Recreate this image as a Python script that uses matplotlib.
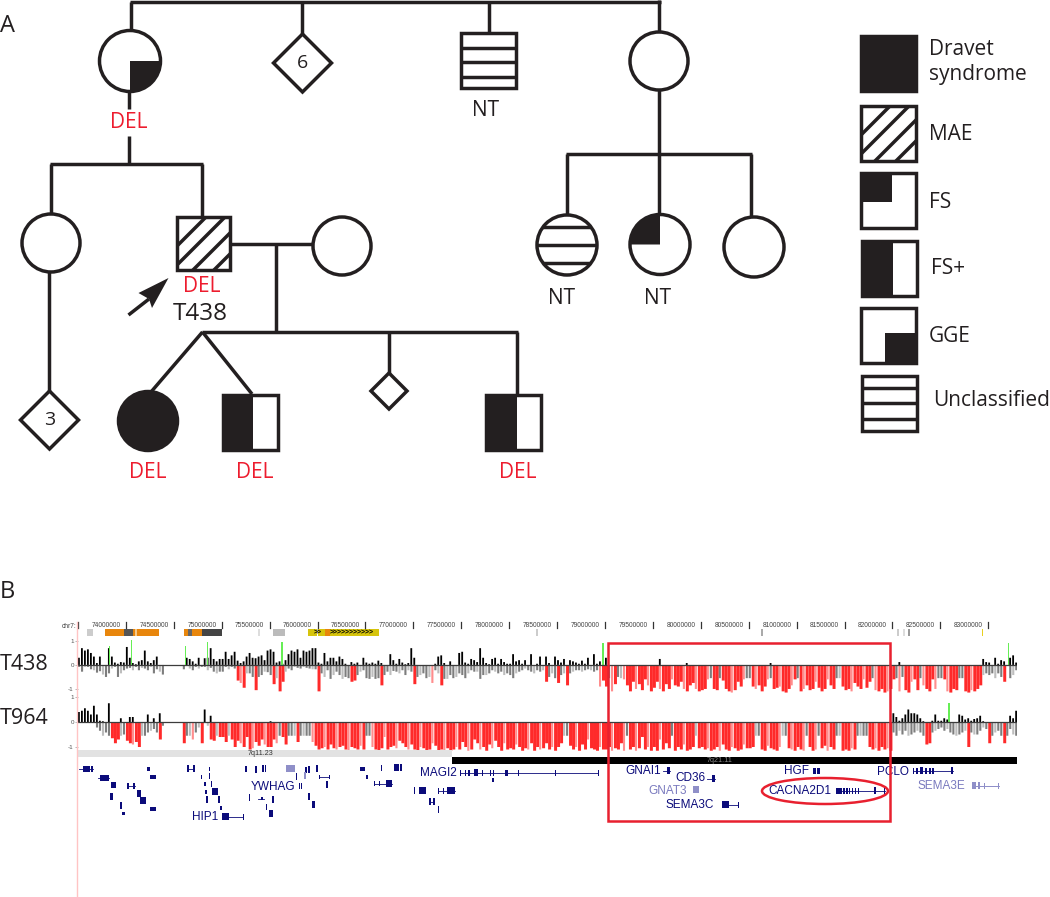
#!/usr/bin/env python3
"""Pedigree (A) and chr7 copy number browser view (B)."""

import matplotlib
matplotlib.use("Agg")
import matplotlib.pyplot as plt
from matplotlib.patches import Circle, Ellipse, Polygon, Rectangle, Wedge

W, H = 1050, 897
INK = "#231f20"
RED = "#ed1c2e"
NAVY = "#0b0b7a"
PEDFONT = "Open Sans"
GENEFONT = "Liberation Sans"

# ---- pedigree, pixel positions ----
open_circles = [(51, 243, 29), (342, 246, 29), (659, 61, 29), (754, 247, 30)]
diamonds = [(302.5, 63, 29, "6"), (49.5, 420, 29, "3"), (389, 391, 18, "")]
ped_lines = [
    (129.5, 2, 660.5, 2), (131, 2, 131, 30), (302, 2, 302, 34), (489, 2, 489, 33), (659, 0, 659, 32),
    (128.5, 92, 128.5, 109), (128.5, 136, 128.5, 164), (50, 164, 203, 164),
    (51, 164, 51, 214), (202, 164, 202, 217), (49, 272, 49, 391),
    (230, 244, 313, 244), (276, 244, 276, 332), (202, 332, 518, 332),
    (202.5, 332, 151, 392), (202.5, 332, 252, 394), (388.5, 332, 388.5, 374), (517, 332, 517, 395),
    (659, 90, 659, 214), (566, 154, 752, 154), (567, 154, 567, 214), (751, 154, 751, 217),
]
ped_texts = [
    (128.5, 122, "DEL", RED), (202, 286, "DEL", RED), (148, 473, "DEL", RED),
    (255, 473, "DEL", RED), (518, 473, "DEL", RED),
    (486, 110, "NT", INK), (562, 298, "NT", INK), (658, 298, "NT", INK),
]
hatch_offsets = [29, 48, 69, 90]

legend_names = ["Dravet\nsyndrome", "MAE", "FS", "FS+", "GGE", "Unclassified"]
legend_text_x = [929, 929, 929, 931, 929, 933]
legend_text_y = [62, 135, 202, 269, 337, 400]
legend_box_x = [861, 861, 861, 862, 861, 862]
legend_box_y = [36, 106, 173, 241, 308, 376]

# ---- browser tracks, one row per 500 kb from 73.5 Mb, values x100 ----
t438_gain = [
    [30, 70, 60, 65, 50, 35, 8, 35, 0, 0, 70, 35, 10, 5, 12, 10],
    [75, 30, 8, 3, 15, 20, 60, 15, 8, 20, 35, 0, 0, 0, 0, 0],
    [0, 0, 0, 0, 30, 25, 15, 5, 30, 0, 28, 30, 70, 25, 15, 25],
    [25, 55, 25, 40, 55, 18, 8, 15, 35, 50, 30, 28, 35, 40, 20, 60],
    [65, 55, 10, 15, 5, 20, 45, 60, 55, 65, 30, 60, 55, 60, 70, 70],
    [10, 5, 50, 15, 30, 30, 15, 35, 25, 5, 0, 12, 5, 10, 0, 30],
    [10, 5, 10, 5, 18, 8, 0, 0, 45, 20, 5, 25, 10, 3, 8, 70],
    [30, 0, 0, 0, 0, 0, 0, 5, 35, 40, 8, 0, 15, 0, 0, 50],
    [55, 10, 5, 25, 20, 12, 70, 30, 8, 3, 25, 30, 5, 25, 12, 5],
    [5, 45, 15, 20, 5, 20, 0, 45, 0, 5, 35, 0, 35, 8, 0, 35],
    [20, 10, 25, 0, 20, 15, 10, 5, 18, 5, 30, 0, 45, 5, 15, 0],
    [30, 0, 0, 0, 0, 0, 0, 0, 0, 0, 0, 0, 0, 0, 0, 0],
    [0, 0, 25, 0, 0, 0, 0, 0, 0, 0, 0, 8, 0, 0, 0, 0],
    [0, 0, 0, 0, 0, 0, 0, 0, 0, 0, 0, 0, 0, 0, 0, 0],
    [0, 0, 0, 0, 0, 0, 0, 8, 0, 0, 0, 0, 0, 0, 0, 0],
    [0, 0, 0, 0, 0, 0, 0, 0, 0, 0, 0, 0, 0, 0, 0, 0],
    [0, 0, 0, 0, 0, 0, 0, 0, 0, 0, 0, 0, 0, 0, 0, 0],
    [0, 0, 12, 0, 0, 0, 0, 0, 0, 0, 0, 0, 0, 0, 0, 0],
    [0, 0, 0, 0, 0, 0, 0, 0, 0, 0, 0, 0, 0, 0, 25, 12],
    [10, 0, 30, 5, 20, 15, 0, 30, 40, 10],
]
t438_loss = [
    [8, 28, 8, 8, 18, 22, 32, 26, 40, 50, 35, 15, 8, 50, 35, 22],
    [15, 12, 22, 8, 22, 12, 15, 22, 8, 35, 18, 28, 40, 0, 0, 0],
    [0, 0, 0, 18, 0, 15, 22, 8, 15, 8, 8, 22, 12, 28, 35, 28],
    [28, 8, 18, 8, 15, 65, 75, 95, 35, 35, 50, 105, 50, 42, 28, 30],
    [42, 80, 55, 110, 70, 28, 15, 22, 8, 12, 15, 8, 12, 15, 18, 18],
    [110, 35, 50, 22, 58, 42, 28, 42, 58, 50, 55, 70, 65, 42, 28, 22],
    [55, 58, 50, 58, 55, 85, 42, 28, 42, 25, 28, 35, 22, 42, 22, 28],
    [80, 50, 42, 35, 55, 50, 75, 22, 35, 85, 58, 58, 42, 55, 50, 35],
    [42, 55, 35, 22, 28, 28, 58, 42, 42, 35, 22, 28, 35, 28, 42, 35],
    [42, 55, 35, 28, 22, 15, 22, 28, 35, 22, 28, 22, 70, 50, 35, 55],
    [75, 42, 35, 85, 35, 28, 22, 22, 28, 22, 18, 22, 28, 22, 90, 65],
    [90, 55, 110, 80, 50, 55, 60, 85, 110, 70, 100, 80, 105, 60, 85, 110],
    [95, 70, 100, 110, 80, 100, 60, 85, 90, 70, 100, 110, 85, 75, 100, 110],
    [105, 100, 60, 55, 100, 105, 55, 65, 100, 110, 115, 105, 70, 90, 60, 55],
    [55, 90, 100, 85, 110, 90, 60, 55, 100, 95, 90, 110, 115, 100, 85, 60],
    [55, 110, 100, 85, 105, 100, 70, 95, 110, 100, 60, 85, 100, 55, 55, 90],
    [105, 100, 110, 75, 90, 100, 60, 95, 70, 55, 105, 110, 100, 115, 110, 100],
    [60, 55, 110, 50, 105, 115, 70, 60, 105, 55, 85, 100, 110, 60, 100, 55],
    [55, 60, 110, 115, 100, 105, 55, 55, 110, 115, 105, 110, 100, 85, 42, 35],
    [42, 35, 55, 35, 50, 70, 0, 55, 42, 22],
]
t964_gain = [
    [40, 45, 55, 45, 30, 65, 30, 5, 3, 0, 75, 0, 0, 0, 15, 0],
    [0, 20, 20, 0, 0, 0, 0, 30, 0, 15, 0, 35, 0, 0, 0, 0],
    [0, 0, 0, 0, 0, 0, 0, 0, 0, 0, 50, 0, 25, 0, 0, 0],
    [0, 0, 0, 0, 0, 0, 0, 0, 0, 0, 0, 0, 0, 0, 0, 0],
    [3, 0, 0, 0, 0, 0, 0, 0, 0, 0, 0, 0, 0, 0, 0, 0],
    [0, 0, 0, 0, 0, 0, 0, 0, 0, 0, 0, 0, 0, 0, 0, 0],
    [0, 0, 0, 0, 0, 0, 0, 0, 0, 0, 0, 0, 0, 0, 0, 0],
    [0, 0, 0, 0, 0, 0, 0, 0, 0, 0, 0, 0, 0, 0, 0, 0],
    [0, 0, 0, 0, 0, 0, 0, 0, 0, 0, 0, 0, 0, 0, 0, 0],
    [0, 0, 0, 0, 0, 0, 0, 0, 0, 0, 0, 0, 0, 0, 0, 0],
    [0, 0, 0, 0, 0, 0, 0, 0, 0, 0, 0, 0, 0, 0, 0, 0],
    [0, 0, 0, 0, 0, 0, 0, 0, 0, 0, 0, 0, 0, 0, 0, 0],
    [0, 0, 0, 0, 0, 0, 0, 0, 0, 0, 0, 0, 0, 0, 0, 0],
    [0, 0, 0, 0, 0, 0, 0, 0, 0, 0, 0, 0, 0, 0, 0, 0],
    [0, 0, 0, 0, 0, 0, 0, 0, 0, 0, 0, 0, 0, 0, 0, 0],
    [0, 0, 0, 0, 0, 0, 0, 0, 0, 0, 0, 0, 0, 0, 0, 0],
    [0, 0, 0, 0, 0, 0, 0, 0, 0, 0, 0, 0, 0, 0, 0, 0],
    [35, 20, 5, 15, 30, 50, 35, 35, 30, 15, 3, 0, 0, 5, 30, 5],
    [5, 15, 10, 0, 0, 0, 30, 25, 10, 15, 5, 12, 15, 25, 3, 0],
    [0, 0, 0, 0, 0, 0, 0, 25, 15, 45],
]
t964_loss = [
    [0, 0, 0, 0, 0, 0, 22, 35, 55, 42, 55, 65, 85, 70, 55, 50],
    [75, 85, 90, 80, 100, 55, 55, 42, 35, 28, 42, 70, 15, 0, 0, 0],
    [0, 0, 0, 85, 55, 55, 70, 42, 22, 85, 0, 15, 70, 75, 55, 60],
    [60, 80, 55, 70, 100, 75, 85, 100, 60, 110, 105, 80, 95, 70, 90, 100],
    [100, 70, 85, 55, 60, 90, 55, 55, 55, 80, 55, 55, 55, 55, 80, 95],
    [110, 105, 100, 110, 90, 105, 110, 100, 95, 110, 115, 100, 105, 110, 95, 110],
    [55, 55, 100, 110, 115, 105, 60, 110, 100, 95, 105, 75, 85, 100, 110, 90],
    [110, 115, 100, 105, 115, 110, 85, 95, 115, 110, 115, 105, 115, 110, 100, 110],
    [80, 100, 115, 110, 70, 85, 110, 100, 115, 90, 105, 75, 100, 115, 85, 110],
    [105, 110, 90, 100, 115, 105, 110, 85, 115, 100, 110, 105, 85, 110, 100, 115],
    [100, 85, 55, 55, 95, 110, 100, 115, 90, 110, 70, 105, 110, 115, 100, 110],
    [110, 100, 115, 105, 110, 85, 115, 55, 110, 100, 115, 105, 60, 110, 100, 115],
    [100, 115, 70, 110, 85, 105, 55, 115, 100, 110, 90, 115, 110, 100, 55, 105],
    [100, 110, 105, 115, 110, 100, 115, 90, 110, 115, 100, 105, 115, 110, 90, 105],
    [105, 100, 55, 55, 110, 115, 95, 105, 110, 115, 100, 55, 55, 105, 110, 115],
    [100, 110, 115, 55, 100, 115, 110, 55, 105, 95, 115, 100, 110, 55, 55, 115],
    [110, 115, 105, 110, 55, 55, 55, 55, 100, 110, 105, 115, 100, 110, 105, 115],
    [42, 55, 35, 50, 35, 55, 50, 42, 35, 42, 55, 90, 85, 42, 35, 28],
    [22, 35, 28, 42, 50, 55, 50, 42, 35, 100, 42, 50, 50, 35, 22, 28],
    [85, 55, 42, 35, 55, 85, 55, 28, 50, 55],
]
t438_spike_mb = [73.83, 74.06, 74.62, 74.85, 75.63, 78.98, 83.21]
t438_spike_val = [80, 105, 80, 95, 95, 90, 90]
t964_spike_mb = [82.59]
t964_spike_val = [75]

ruler_mb = [73.5 + 0.5 * i for i in range(20)]
ruler_labels = ["", "74000000", "74500000", "75000000", "75500000", "76000000", "76500000",
                "77000000", "77500000", "78000000", "78500000", "79000000", "79500000",
                "80000000", "80500000", "81000000", "81500000", "82000000", "82500000", "83000000"]

# start, end, colour
feature_bands = [
    (73.78, 74.35, "#e8860c"), (73.98, 74.07, "#555555"), (74.10, 74.12, "#f6c98a"),
    (74.61, 75.00, "#e8860c"), (74.65, 74.69, "#666666"), (74.79, 75.00, "#444444"),
    (73.59, 73.66, "#cccccc"), (75.38, 75.40, "#dddddd"), (75.53, 75.66, "#bbbbbb"),
    (75.90, 75.99, "#d6c40c"), (76.01, 76.64, "#d6c40c"), (76.08, 76.13, "#e8860c"),
    (78.28, 78.30, "#cccccc"), (80.63, 80.65, "#aaaaaa"), (82.05, 82.07, "#cccccc"),
    (82.11, 82.13, "#dddddd"), (82.16, 82.18, "#999999"), (82.93, 82.95, "#e8d020"),
]
cyto_bands = [(73.5, 77.4, "#e2e2e2", 750), (77.4, 83.3, "#000000", 757.5)]

# ---- gene models, pixel positions ----
gene_lines = [
    (79, 93, 769), (98, 109, 778), (127, 135, 786), (187, 194, 769), (212, 217, 792),
    (225, 243, 817), (258, 264, 799), (319, 329, 777), (374, 392, 784), (438, 455, 791),
    (429, 434, 802), (460, 598, 773), (663, 670, 771), (707, 715, 779), (722, 738, 805),
    (836, 885, 791), (913, 953, 771),
]
gene_boxes = [
    (83, 769, 7, 6), (91, 769, 2, 6), (100, 778, 9, 6), (111, 785.5, 5, 6), (127, 786, 1.5, 6),
    (133, 786, 1.5, 6), (110, 797, 2.5, 7), (137, 794, 4, 7), (140, 801, 6, 7), (120, 806, 1.5, 7),
    (122, 814, 3, 3), (150, 809, 6, 4), (147, 769, 3, 4), (150, 777, 6, 4), (187, 769, 2, 7),
    (193, 769, 1.5, 7), (208.5, 769, 1, 4), (200.5, 777, 1.5, 4), (209, 776, 1, 6), (204, 784, 1.5, 4),
    (210.5, 784, 1, 6), (205, 792, 1.5, 4), (212, 792, 6, 7), (206, 800, 1.5, 7), (218, 800, 1.5, 7),
    (220, 808, 2, 4), (222, 817, 7, 7), (243, 817, 1, 6), (245, 769, 2, 6), (255, 770, 1.5, 7),
    (262, 769, 1.5, 7), (264.5, 769, 1.5, 7), (296, 777, 1, 7), (305, 770, 1.5, 6), (308, 770, 2, 7),
    (316, 769, 2, 7), (319, 777, 1, 4), (329, 777, 1, 4), (326, 785, 2, 7), (299, 786, 1, 6),
    (301, 786, 1, 6), (249, 798, 1, 7), (261, 799, 2, 3), (271.5, 800, 2, 7), (265.5, 807, 1, 6),
    (268.5, 814, 4, 7), (308, 797, 2, 7), (312, 805, 3, 7), (311.5, 813, 0.7, 3), (360, 769, 5, 4),
    (381, 768, 1, 6), (394, 768, 5, 7), (399.5, 768, 2, 7), (366, 777, 2, 4), (374, 784, 1, 5),
    (379, 784, 1, 5), (386, 784, 6, 7), (419, 791, 7, 7), (414, 791, 1, 7), (438, 791, 1, 6),
    (443, 791, 1, 6), (447, 791, 8, 7), (429, 802, 1.5, 7), (433, 802, 1.5, 7), (438, 810, 1, 7),
    (460, 773, 1, 6), (465, 773, 1, 6), (468, 773, 1.5, 6), (473.5, 773, 4, 7), (482, 773, 1, 6),
    (490, 773, 1, 6), (493, 773, 1, 6), (492, 780, 2, 4), (505, 773, 3, 6), (518, 773, 1, 6),
    (555, 773, 1, 6), (598, 773, 1, 6), (667, 771, 3, 7), (712, 779, 3, 7), (722, 805, 7, 7),
    (738, 805, 1, 6), (813, 771, 3, 6), (817, 771, 3, 6), (836, 791, 6, 6), (843, 791, 1.5, 6),
    (846, 791, 1.5, 6), (849, 791, 1, 6), (852, 791, 1, 6), (855, 791, 1, 6), (858, 791, 1, 6),
    (874, 791, 2, 7), (884, 791, 1, 6), (913, 771, 1, 6), (916, 771, 1.5, 6), (920, 771, 3, 7),
    (925, 771, 1.5, 6), (929, 771, 1.5, 6), (932, 771, 1.5, 6), (951, 771, 2, 7),
]
pale_boxes = [
    (286, 769, 9, 7), (304, 776, 2, 7), (693, 790, 6, 7), (972, 786, 4, 7),
    (978, 786, 2, 7), (984, 786, 1, 6), (998, 786, 1, 6),
]
pale_lines = [(972, 999, 786)]
gene_names = ["MAGI2", "YWHAG", "HIP1", "GNAI1", "CD36", "SEMA3C", "HGF", "PCLO", "CACNA2D1"]
gene_x = [420, 251, 192, 625, 675, 665, 784, 877, 768]
gene_y = [773, 787, 817, 771, 778, 805, 771, 772, 791]
pale_names = ["GNAT3", "SEMA3E"]
pale_x = [648, 918]
pale_y = [791, 786]

fig = plt.figure(figsize=(W / 100, H / 100), dpi=100, facecolor="white")


def px_axes(x0, y0, x1, y1):
    a = fig.add_axes([x0 / W, 1 - y1 / H, (x1 - x0) / W, (y1 - y0) / H])
    a.patch.set_visible(False)
    return a


def draw_track(a, gain, loss, spike_mb, spike_val):
    for r in range(len(gain)):
        for j, v in enumerate(gain[r]):
            if v:
                a.bar(73.5 + r * 0.5 + j / 32, v / 100, width=0.019, color="black",
                      linewidth=0, align="edge").patches[0].set_snap(False)
        for j, v in enumerate(loss[r]):
            if not v:
                continue
            if v >= 60:
                c, wd = ("#ff8d8d", 0.022) if j % 4 == 2 else ("#ff2a2a", 0.0312)
            else:
                c, wd = ("#bdbdbd", 0.022) if j % 3 == 2 else ("#7d7d7d", 0.022)
            a.bar(73.5 + r * 0.5 + j / 32, -v / 100, width=wd, color=c,
                  linewidth=0, align="edge").patches[0].set_snap(False)
    a.bar(spike_mb, [v / 100 for v in spike_val], width=0.016, color="#66ee55", linewidth=0)
    a.axhline(0, color="#3c3c3c", lw=0.9)
    a.set_xlim(73.5, 83.3)
    a.set_xticks([])
    a.set_yticks([-1, 0, 1])
    a.set_yticklabels(["-1", "0", "1"], fontsize=4.5, color="#555555", fontfamily=GENEFONT)
    a.tick_params(axis="y", length=2, width=0.5, color="#999999", pad=1)
    for s in a.spines.values():
        s.set_visible(False)


ax_a = px_axes(78, 640, 1017, 694)
ax_a.set_ylim(-1.21, 1.04)
draw_track(ax_a, t438_gain, t438_loss, t438_spike_mb, t438_spike_val)

ax_b = px_axes(78, 696, 1017, 752)
ax_b.set_ylim(-1.2, 1.04)
draw_track(ax_b, t964_gain, t964_loss, t964_spike_mb, t964_spike_val)

# ruler, feature bands and cytobands share the Mb scale
ax_r = px_axes(78, 618, 1017, 770)
ax_r.set_xlim(73.5, 83.3)
ax_r.set_ylim(770, 618)
ax_r.axis("off")
for mb, lab in zip(ruler_mb, ruler_labels):
    ax_r.plot([mb, mb], [622, 628.5], color="#333333", lw=0.9)
    ax_r.text(mb - 0.055, 626, lab, ha="right", va="center", fontsize=4.8,
              color="#444444", fontfamily=GENEFONT)
for s, e, c in feature_bands:
    ax_r.add_patch(Rectangle((s, 629.5), e - s, 7, color=c, lw=0))
ax_r.text(76.36, 633, ">" * 11, ha="center", va="center", fontsize=5, color="black",
          fontweight="bold", fontfamily=GENEFONT)
ax_r.text(76.0, 633, ">>", ha="center", va="center", fontsize=5, color="black",
          fontweight="bold", fontfamily=GENEFONT)
for s, e, c, y in cyto_bands:
    ax_r.add_patch(Rectangle((s, y), e - s, 7, color=c, lw=0))
ax_r.text(75.41, 753.5, "7q11.23", ha="center", va="center", fontsize=5.2, color="#333333",
          fontfamily=GENEFONT)
ax_r.text(80.2, 761, "7q21.11", ha="center", va="center", fontsize=5.2, color="#888888",
          fontfamily=GENEFONT)

# everything else is drawn in image pixels, on top
ax = fig.add_axes([0, 0, 1, 1])
ax.set_zorder(5)
ax.patch.set_visible(False)
ax.set_xlim(0, W)
ax.set_ylim(H, 0)
ax.axis("off")
LW = 2.5


def stroke(x0, y0, x1, y1, lw=LW):
    ax.plot([x0, x1], [y0, y1], color=INK, lw=lw, solid_capstyle="butt", zorder=2)


def box(x, y, s=55):
    r = Rectangle((x, y), s, s, facecolor="none", edgecolor=INK, lw=LW, zorder=4, joinstyle="miter")
    ax.add_patch(r)
    return r


def fill_rect(x0, y0, x1, y1):
    ax.add_patch(Rectangle((x0, y0), x1 - x0, y1 - y0, color=INK, lw=0, zorder=3))


def circle(cx, cy, r):
    c = Circle((cx, cy), r, facecolor="white", edgecolor=INK, lw=LW, zorder=3)
    ax.add_patch(c)
    return c


def stripes(x0, x1, ys, clip=None):
    for y in ys:
        ln, = ax.plot([x0, x1], [y, y], color=INK, lw=LW, solid_capstyle="butt", zorder=3)
        if clip is not None:
            ln.set_clip_path(clip)


def hatch(x, y, s=54):
    r = Rectangle((x, y), s, s, transform=ax.transData)
    for off in hatch_offsets:
        ln, = ax.plot([x + off + 40, x + off - 60], [y - 40, y + 60], color=INK, lw=LW, zorder=3)
        ln.set_clip_path(r)


for x0, y0, x1, y1 in ped_lines:
    stroke(x0, y0, x1, y1)
for cx, cy, r in open_circles:
    circle(cx, cy, r)

# filled quadrants / striped circles
c = circle(130, 61, 30.5)
ax.add_patch(Wedge((130, 61), 30, 0, 90, color=INK, lw=0, zorder=3.5))
c = circle(660, 244.5, 30)
ax.add_patch(Wedge((660, 244.5), 30, 180, 270, color=INK, lw=0, zorder=3.5))
c = circle(567, 245, 30)
stripes(536, 598, [227, 245, 263], clip=c)
circle(148, 421, 29.5).set_facecolor(INK)

for cx, cy, s, lab in diamonds:
    ax.add_patch(Polygon([(cx, cy - s), (cx + s, cy), (cx, cy + s), (cx - s, cy)], closed=True,
                         facecolor="white", edgecolor=INK, lw=LW, zorder=3, joinstyle="miter"))
    if lab:
        ax.text(cx, cy, lab, ha="center", va="center", fontsize=14, color=INK, fontfamily=PEDFONT, zorder=5)

box(461, 33)
stripes(461, 516, [48, 62, 77])
box(177, 217, 53)
hatch(177, 217)
box(223, 395)
fill_rect(223, 395, 253, 450)
box(486, 395)
fill_rect(486, 395, 517, 450)

# arrow to the proband
stroke(128.5, 315, 149, 299)
ax.add_patch(Polygon([(168.5, 278), (138.5, 293), (149, 299), (152, 308)], closed=True, color=INK, lw=0, zorder=3))

# white gap behind DEL on the stem is already left in ped_lines
for x, y, s, c in ped_texts:
    ax.text(x, y, s, ha="center", va="center", fontsize=15, color=c, fontfamily=PEDFONT, zorder=6)
ax.text(200, 314, "T438", ha="center", va="center", fontsize=17.5, color=INK, fontfamily=PEDFONT, zorder=6)
ax.text(0, 26, "A", ha="left", va="center", fontsize=17, color=INK, fontfamily=PEDFONT)
ax.text(0, 592, "B", ha="left", va="center", fontsize=17, color=INK, fontfamily=PEDFONT)
ax.text(0, 664, "T438", ha="left", va="center", fontsize=15.5, color=INK, fontfamily=PEDFONT)
ax.text(0, 718, "T964", ha="left", va="center", fontsize=15.5, color=INK, fontfamily=PEDFONT)

# legend
for i, name in enumerate(legend_names):
    x, y = legend_box_x[i], legend_box_y[i]
    box(x, y)
    if name.startswith("Dravet"):
        fill_rect(x, y, x + 55, y + 55)
    elif name == "MAE":
        hatch(x, y, 55)
    elif name == "FS":
        fill_rect(x, y, x + 31, y + 29)
    elif name == "FS+":
        fill_rect(x, y, x + 31, y + 55)
    elif name == "GGE":
        fill_rect(x + 24, y + 25, x + 55, y + 55)
    else:
        stripes(x, x + 55, [y + 12, y + 27, y + 43])
    ax.text(legend_text_x[i], legend_text_y[i], name, ha="left", va="center", fontsize=15,
            color=INK, fontfamily=PEDFONT, linespacing=1.25)

# browser overlay
ax.plot([77, 77], [622, H], color="#ffc4c4", lw=1.0, zorder=1)
ax.text(76, 626, "chr7:", ha="right", va="center", fontsize=4.8, color="#444444", fontfamily=GENEFONT)

for x0, x1, y in gene_lines:
    ax.plot([x0, x1], [y, y], color=NAVY, lw=0.6, zorder=2)
for x, y, w, h in gene_boxes:
    ax.add_patch(Rectangle((x, y - h / 2), w, h, color=NAVY, lw=0, zorder=2))
for x0, x1, y in pale_lines:
    ax.plot([x0, x1], [y, y], color="#7a7abf", lw=0.6, zorder=2)
for x, y, w, h in pale_boxes:
    ax.add_patch(Rectangle((x, y - h / 2), w, h, color="#8f8fc8", lw=0, zorder=2))
for s, x, y in zip(gene_names, gene_x, gene_y):
    ax.text(x, y, s, ha="left", va="center", fontsize=8.5, color=NAVY, fontfamily=GENEFONT)
for s, x, y in zip(pale_names, pale_x, pale_y):
    ax.text(x, y, s, ha="left", va="center", fontsize=8.5, color="#7a7abf", fontfamily=GENEFONT)

ax.add_patch(Rectangle((608, 643), 282, 178, facecolor="none", edgecolor="#e8202f", lw=1.8, zorder=7))
ax.add_patch(Ellipse((825, 791), 126, 26, facecolor="none", edgecolor="#e8202f", lw=1.8, zorder=7))

fig.savefig("out.png", dpi=100)
